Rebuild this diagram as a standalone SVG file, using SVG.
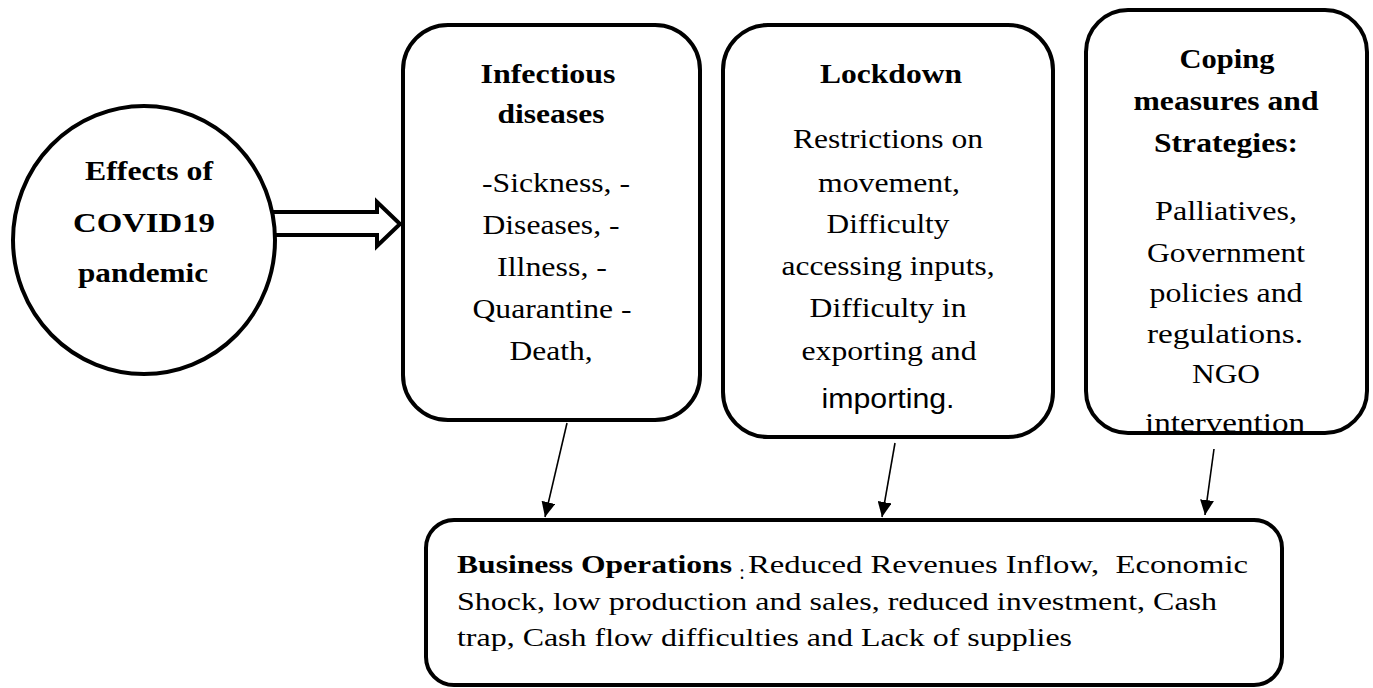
<svg xmlns="http://www.w3.org/2000/svg" width="1373" height="688" viewBox="0 0 1373 688">
<style>
.shape{fill:#fff;stroke:#000;stroke-width:4}
text{font-family:'Liberation Serif','Times New Roman',Times,serif;fill:#000;text-anchor:middle;font-size:28px}
.b{font-weight:bold;font-size:27px}
.s{font-family:'Liberation Sans',Arial,sans-serif;font-size:27px}
.l{text-anchor:start;font-size:25px;white-space:pre}
.conn{stroke:#000;stroke-width:1.6;fill:none}
</style>
<defs>
<marker id="ah" markerUnits="userSpaceOnUse" markerWidth="16" markerHeight="14" refX="15" refY="7" orient="auto">
<path d="M0,0 L15,7 L0,14 z" fill="#000"/>
</marker>
</defs>
<rect width="1373" height="688" fill="#fff"/>

<g id="effects">
<ellipse class="shape" cx="144" cy="240" rx="131" ry="134"/>
<text class="b" x="149" y="180" textLength="128" lengthAdjust="spacingAndGlyphs">Effects of</text>
<text class="b" x="144" y="232" textLength="142" lengthAdjust="spacingAndGlyphs">COVID19</text>
<text class="b" x="143" y="282" textLength="130" lengthAdjust="spacingAndGlyphs">pandemic</text>
</g>

<g id="infectious">
<rect class="shape" x="403" y="25" width="297" height="395" rx="45" ry="45"/>
<text class="b" x="548" y="83" textLength="135" lengthAdjust="spacingAndGlyphs">Infectious</text>
<text class="b" x="551" y="123" textLength="107" lengthAdjust="spacingAndGlyphs">diseases</text>
<text x="556" y="192" textLength="148" lengthAdjust="spacingAndGlyphs">-Sickness, -</text>
<text x="551" y="234" textLength="137" lengthAdjust="spacingAndGlyphs">Diseases, -</text>
<text x="552" y="276" textLength="110" lengthAdjust="spacingAndGlyphs">Illness, -</text>
<text x="552" y="318" textLength="159" lengthAdjust="spacingAndGlyphs">Quarantine -</text>
<text x="551" y="360" textLength="83" lengthAdjust="spacingAndGlyphs">Death,</text>
</g>

<g id="lockdown">
<rect class="shape" x="723" y="25" width="330" height="412" rx="45" ry="45"/>
<text class="b" x="891" y="83" textLength="142" lengthAdjust="spacingAndGlyphs">Lockdown</text>
<text x="888" y="148" textLength="190" lengthAdjust="spacingAndGlyphs">Restrictions on</text>
<text x="889" y="192" textLength="142" lengthAdjust="spacingAndGlyphs">movement,</text>
<text x="888" y="233" textLength="123" lengthAdjust="spacingAndGlyphs">Difficulty</text>
<text x="888" y="275" textLength="213" lengthAdjust="spacingAndGlyphs">accessing inputs,</text>
<text x="888" y="317" textLength="157" lengthAdjust="spacingAndGlyphs">Difficulty in</text>
<text x="889" y="360" textLength="175" lengthAdjust="spacingAndGlyphs">exporting and</text>
<text class="s" x="888" y="408" textLength="133" lengthAdjust="spacingAndGlyphs">importing.</text>
</g>

<g id="coping">
<rect class="shape" x="1086" y="10" width="281" height="423" rx="42" ry="42"/>
<text class="b" x="1227" y="68" textLength="95" lengthAdjust="spacingAndGlyphs">Coping</text>
<text class="b" x="1226" y="110" textLength="185" lengthAdjust="spacingAndGlyphs">measures and</text>
<text class="b" x="1226" y="152" textLength="144" lengthAdjust="spacingAndGlyphs">Strategies:</text>
<text x="1226" y="220" textLength="142" lengthAdjust="spacingAndGlyphs">Palliatives,</text>
<text x="1226" y="262" textLength="158" lengthAdjust="spacingAndGlyphs">Government</text>
<text x="1226" y="302" textLength="153" lengthAdjust="spacingAndGlyphs">policies and</text>
<text x="1225" y="343" textLength="156" lengthAdjust="spacingAndGlyphs">regulations.</text>
<text x="1226" y="383" textLength="68" lengthAdjust="spacingAndGlyphs">NGO</text>
<text x="1225" y="432" textLength="160" lengthAdjust="spacingAndGlyphs">intervention</text>
<line x1="1130" y1="433" x2="1323" y2="433" stroke="#000" stroke-width="4"/>
</g>

<g id="business">
<rect class="shape" x="426" y="520" width="856" height="165" rx="28" ry="28"/>
<text class="b l" x="457" y="573" textLength="275" lengthAdjust="spacingAndGlyphs">Business Operations</text>
<text x="742" y="579" style="font-size:20px">:</text>
<text class="l" x="748" y="573" textLength="500" lengthAdjust="spacingAndGlyphs">Reduced Revenues Inflow,  Economic</text>
<text class="l" x="457" y="610" textLength="760" lengthAdjust="spacingAndGlyphs">Shock, low production and sales, reduced investment, Cash</text>
<text class="l" x="457" y="646" textLength="615" lengthAdjust="spacingAndGlyphs">trap, Cash flow difficulties and Lack of supplies</text>
</g>

<g id="connectors">
<polyline points="273,212 377,212 377,202 400,224 377,246 377,235 273,235" fill="none" stroke="#000" stroke-width="4" stroke-linejoin="miter"/>
<line class="conn" x1="567" y1="423" x2="545" y2="517" marker-end="url(#ah)"/>
<line class="conn" x1="895" y1="443" x2="882" y2="517" marker-end="url(#ah)"/>
<line class="conn" x1="1214" y1="449" x2="1205" y2="515" marker-end="url(#ah)"/>
</g>
</svg>
